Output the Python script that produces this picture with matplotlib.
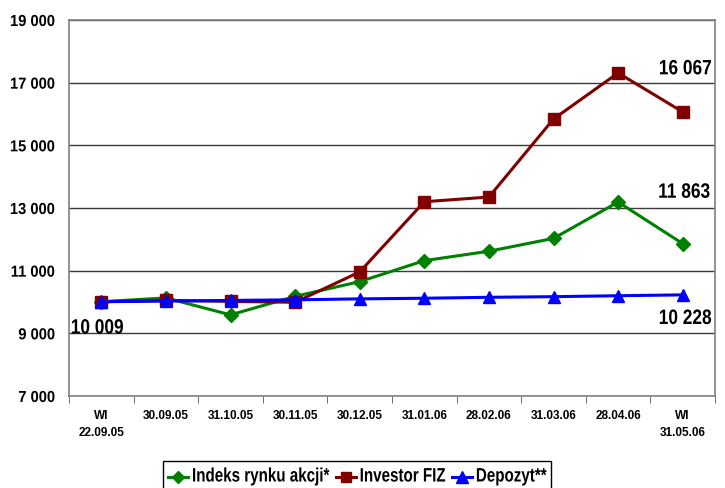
import matplotlib
matplotlib.use("Agg")
import matplotlib.pyplot as plt
from matplotlib.ticker import FixedLocator
from matplotlib.patheffects import AbstractPathEffect
from matplotlib.transforms import Affine2D
from matplotlib.lines import Line2D
from matplotlib.patches import Rectangle

categories = ["Wl\n22.09.05", "30.09.05", "31.10.05", "30.11.05", "30.12.05",
              "31.01.06", "28.02.06", "31.03.06", "28.04.06", "Wl\n31.05.06"]
indeks = [10009, 10130, 9590, 10180, 10650, 11320, 11620, 12030, 13190, 11863]
investor = [10009, 10050, 10020, 9990, 10960, 13200, 13350, 15840, 17310, 16067]
depozyt = [10009, 10030, 10050, 10070, 10100, 10120, 10150, 10170, 10200, 10228]
yticks = [7000, 9000, 11000, 13000, 15000, 17000, 19000]
ytick_labels = ["7 000", "9 000", "11 000", "13 000", "15 000", "17 000", "19 000"]
series_names = ["Indeks rynku akcji*", "Investor FIZ", "Depozyt**"]


class Condense(AbstractPathEffect):
    """Horizontally squeeze text glyphs around an anchor (mimics a narrow font)."""
    def __init__(self, text, sx, ha):
        super().__init__()
        self.text, self.sx, self.ha = text, sx, ha

    def draw_path(self, renderer, gc, tpath, affine, rgbFace=None):
        bb = self.text.get_window_extent(renderer)
        px = {'left': bb.x0, 'right': bb.x1, 'center': 0.5 * (bb.x0 + bb.x1)}[self.ha]
        aff = affine + Affine2D().translate(-px, 0).scale(self.sx, 1).translate(px, 0)
        renderer.draw_path(gc, tpath, aff, rgbFace)


def condense(t, sx, ha):
    t.set_path_effects([Condense(t, sx, ha)])
    return t


plt.rcParams['font.family'] = ['Liberation Sans', 'DejaVu Sans']

W, H = 725, 488
fig = plt.figure(figsize=(W / 100, H / 100), dpi=100)
ax = fig.add_axes([69 / W, 1 - 396 / H, (715 - 69) / W, (396 - 20) / H])

x = list(range(len(categories)))
colors = ['#008000', '#800000', '#0000FF']
markers = ['D', 's', '^']
msizes = [7, 8, 9]
for vals, c, m, ms, name, z in zip([indeks, investor, depozyt], colors, markers, msizes, series_names, [3, 4, 5]):
    ax.plot(x, vals, color=c, lw=2.2, marker=m, ms=ms, label=name, zorder=z)

ax.set_xlim(-0.5, len(categories) - 0.5)
ax.set_ylim(7000, 19000)
ax.set_yticks(yticks)
ax.set_yticklabels(ytick_labels, fontsize=11.5, fontweight='bold')
for t in ax.get_yticklabels():
    condense(t, 0.92, 'right')
ax.tick_params(axis='y', length=0, pad=10)
ax.yaxis.grid(True, color='#3a3a3a', lw=1.0)
ax.set_axisbelow(True)

ax.set_xticks(x)
ax.set_xticklabels(categories, fontsize=8.5, fontweight='bold', va='top', linespacing=1.6)
ax.tick_params(axis='x', length=0, pad=10)
ax.xaxis.set_minor_locator(FixedLocator([i - 0.5 for i in range(len(categories) + 1)]))
ax.tick_params(axis='x', which='minor', length=5, color='#555555')

for s in ['left', 'bottom', 'right', 'top']:
    ax.spines[s].set_color('#808080')
    ax.spines[s].set_linewidth(1.2)

lab_kw = dict(fontsize=15, fontweight='bold', color='black', textcoords='offset points', va='center')
sx_lab = 0.83
condense(ax.annotate("16 067", (x[-1], investor[-1]), xytext=(21, 31), ha='right', **lab_kw), sx_lab, 'right')
condense(ax.annotate("11 863", (x[-1], indeks[-1]), xytext=(20, 37), ha='right', **lab_kw), sx_lab, 'right')
condense(ax.annotate("10 228", (x[-1], depozyt[-1]), xytext=(21, -17), ha='right', **lab_kw), sx_lab, 'right')
condense(ax.annotate("10 009", (x[0], depozyt[0]), xytext=(-22, -19), ha='left', **lab_kw), sx_lab, 'left')

# --- legend (built by hand so the condensed text can size the box) ---
renderer = fig.canvas.get_renderer()
def fx(px):
    return px / W
def fy(py):
    return 1 - py / H

leg_y = 477
sx_leg = 0.78
cur = 168
frame_left = 163
for name, c, m, ms in zip(series_names, colors, markers, msizes):
    fig.add_artist(Line2D([fx(cur), fx(cur + 20)], [fy(leg_y), fy(leg_y)], color=c, lw=2.2,
                          transform=fig.transFigure))
    fig.add_artist(Line2D([fx(cur + 10)], [fy(leg_y)], color=c, marker=m, ms=ms - 1, lw=0,
                          transform=fig.transFigure))
    t = fig.text(fx(cur + 24), fy(leg_y), name, fontsize=14, fontweight='bold',
                 ha='left', va='center')
    condense(t, sx_leg, 'left')
    w = t.get_window_extent(renderer).width * sx_leg
    cur = cur + 24 + w + 6
frame_right = cur - 2
fig.add_artist(Rectangle((fx(frame_left), fy(492)), fx(frame_right) - fx(frame_left), fy(461) - fy(492),
                         fill=False, edgecolor='black', lw=1.0, transform=fig.transFigure))

fig.savefig("out.png", dpi=100)
